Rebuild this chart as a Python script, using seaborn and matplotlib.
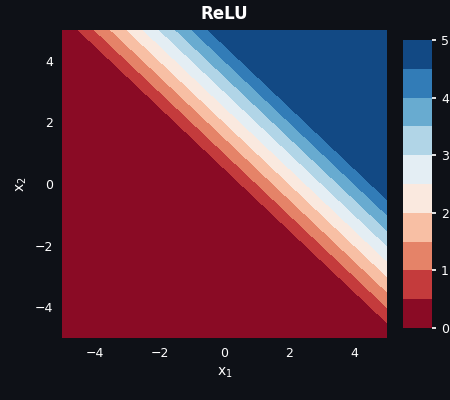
import numpy as np
import matplotlib
matplotlib.use("Agg")
import matplotlib.pyplot as plt
import seaborn as sns

# grid and levels
x1 = np.linspace(-5, 5, 201)
x2 = np.linspace(-5, 5, 201)
levels = [0, 0.5, 1, 1.5, 2, 2.5, 3, 3.5, 4, 4.5, 5]
cbar_ticks = [0, 1, 2, 3, 4, 5]
title = "ReLU"

bg = "#0e1117"
sns.set_theme(style="dark")
plt.rcParams.update({
    "figure.facecolor": bg, "axes.facecolor": bg, "savefig.facecolor": bg,
    "text.color": "white", "axes.labelcolor": "white",
    "xtick.color": "white", "ytick.color": "white",
})
plt.rcParams["font.family"] = ["DejaVu Sans"]

X1, X2 = np.meshgrid(x1, x2)
Z = np.clip(np.maximum(0, X1 + X2), 0, 5)

fig = plt.figure(figsize=(4.5, 4.0), dpi=100)
ax = fig.add_axes([0.138, 0.155, 0.722, 0.77])
cax = fig.add_axes([0.895, 0.18, 0.065, 0.72])
cs = ax.contourf(X1, X2, Z, levels=levels, cmap="RdBu")
cb = fig.colorbar(cs, cax=cax, ticks=cbar_ticks)
cb.outline.set_visible(False)
cax.tick_params(colors="white", labelsize=9, length=3)
ax.set_title(title, color="white", fontweight="bold", fontsize=12, pad=8)
ax.set_xlabel("x$_1$", fontsize=10)
ax.set_ylabel("x$_2$", fontsize=10)
ax.set_xticks([-4, -2, 0, 2, 4])
ax.set_yticks([-4, -2, 0, 2, 4])
ax.set_xticklabels(["\u22124", "\u22122", "0", "2", "4"])
ax.set_yticklabels(["\u22124", "\u22122", "0", "2", "4"])
ax.tick_params(labelsize=9, length=3)
for s in ax.spines.values():
    s.set_visible(False)
fig.savefig("out.png", dpi=100)
